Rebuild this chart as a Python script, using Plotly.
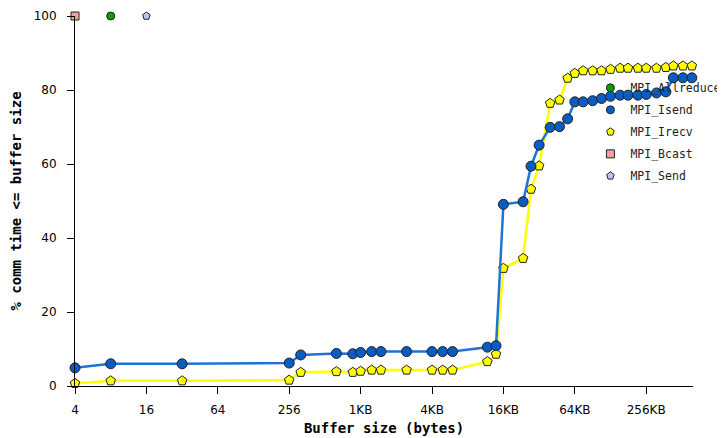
import plotly.graph_objects as go

# ---- data ----
isend_x = [4, 8, 32, 256, 320, 640, 880, 1024, 1270, 1520, 2500, 4096, 5040, 6100,
           12000, 14200, 16384, 24000, 28000, 32768,
           40600, 48700, 57000, 65536, 77000, 92700, 110000, 131072, 158000, 184000,
           223000, 262144, 320000, 384000, 444000, 535000, 636000]
isend_y = [4.9, 6.0, 6.0, 6.2, 8.4, 8.8, 8.7, 9.05, 9.3, 9.3, 9.3, 9.3, 9.3, 9.3,
           10.5, 10.9, 49.1, 49.8, 59.4, 65.1,
           69.9, 70.1, 72.2, 76.8, 76.8, 77.1, 77.7, 78.3, 78.6, 78.6,
           78.6, 78.8, 79.2, 79.5, 83.3, 83.3, 83.3]

irecv_x = isend_x
irecv_y = [0.7, 1.4, 1.4, 1.6, 3.7, 3.9, 3.7, 4.0, 4.3, 4.3, 4.3, 4.3, 4.3, 4.3,
           6.6, 8.6, 31.8, 34.5, 53.2, 59.5,
           76.4, 77.3, 83.2, 84.5, 85.2, 85.2, 85.2, 85.6, 85.9, 85.9,
           85.9, 85.9, 85.9, 86.1, 86.5, 86.5, 86.5]

allreduce_x = [8]
allreduce_y = [100]
bcast_x = [4]
bcast_y = [100]
send_x = [16]
send_y = [100]

tick_vals = [4, 16, 64, 256, 1024, 4096, 16384, 65536, 262144]
tick_text = ["4", "16", "64", "256", "1KB", "4KB", "16KB", "64KB", "256KB"]

# ---- styles ----
BLUE_LINE = "#1f72d6"
BLUE_FILL = "#0a5cc2"
YELLOW = "#ffff00"
GREEN = "#0a9a0a"
PINK = "#f4a0a0"
LIGHTBLUE = "#b4c8ee"
OUTLINE = dict(color="#222222", width=1)
MONO = "DejaVu Sans Mono"

fig = go.Figure()

fig.add_trace(go.Scatter(x=irecv_x, y=irecv_y, mode="lines+markers", showlegend=False,
                         line=dict(color=YELLOW, width=2.5),
                         marker=dict(symbol="pentagon", size=10, color=YELLOW, line=OUTLINE),
                         cliponaxis=False))
fig.add_trace(go.Scatter(x=isend_x, y=isend_y, mode="lines+markers", showlegend=False,
                         line=dict(color=BLUE_LINE, width=2.5),
                         marker=dict(symbol="circle", size=10, color=BLUE_FILL, line=OUTLINE),
                         cliponaxis=False))
fig.add_trace(go.Scatter(x=allreduce_x, y=allreduce_y, mode="markers", showlegend=False,
                         marker=dict(symbol="circle", size=8, color=GREEN, line=OUTLINE),
                         cliponaxis=False))
fig.add_trace(go.Scatter(x=bcast_x, y=bcast_y, mode="markers", showlegend=False,
                         marker=dict(symbol="square", size=8, color=PINK, line=OUTLINE),
                         cliponaxis=False))
fig.add_trace(go.Scatter(x=send_x, y=send_y, mode="markers", showlegend=False,
                         marker=dict(symbol="pentagon", size=8, color=LIGHTBLUE, line=OUTLINE),
                         cliponaxis=False))

# legend-only entries (markers only)
legend_items = [
    ("MPI_Allreduce", "circle", GREEN),
    ("MPI_Isend", "circle", BLUE_FILL),
    ("MPI_Irecv", "pentagon", YELLOW),
    ("MPI_Bcast", "square", PINK),
    ("MPI_Send", "pentagon", LIGHTBLUE),
]
for name, sym, col in legend_items:
    fig.add_trace(go.Scatter(x=[None], y=[None], mode="markers", name=name,
                             legendgroup=name,
                             marker=dict(symbol=sym, size=8, color=col, line=OUTLINE)))

# page body has an 8px margin: figure is sized/margined to compensate
fig.update_layout(
    width=717, height=430,
    margin=dict(l=67, r=32, t=8, b=52, autoexpand=False),
    paper_bgcolor="white", plot_bgcolor="white",
    font=dict(family=MONO, size=12, color="#000000"),
    legend=dict(x=0.834, y=0.845, xanchor="left", yanchor="top",
                bgcolor="rgba(0,0,0,0)", borderwidth=0,
                font=dict(family=MONO, size=11.5, color="#222222"),
                itemwidth=30, tracegroupgap=3),
    xaxis=dict(type="log", range=[0.6020, 5.813],
               tickvals=tick_vals, ticktext=tick_text,
               showgrid=False, zeroline=False,
               showline=True, linecolor="#000000", linewidth=1,
               ticks="outside", ticklen=7, tickcolor="#000000",
               ticklabelstandoff=6,
               tickfont=dict(family="DejaVu Sans", size=12, color="#000000"),
               title=dict(text="<b>Buffer size (bytes)</b>", standoff=6,
                          font=dict(family=MONO, size=14, color="#000000"))),
    yaxis=dict(range=[0, 100], tickvals=[0, 20, 40, 60, 80, 100],
               showgrid=False, zeroline=False,
               showline=True, linecolor="#000000", linewidth=1,
               ticks="outside", ticklen=7, tickcolor="#000000",
               ticklabelstandoff=8,
               tickfont=dict(family="DejaVu Sans", size=12, color="#000000"),
               title=dict(text="<b>% comm time <= buffer size</b>", standoff=10,
                          font=dict(family=MONO, size=14, color="#000000"))),
)

fig.write_html("out.html")
